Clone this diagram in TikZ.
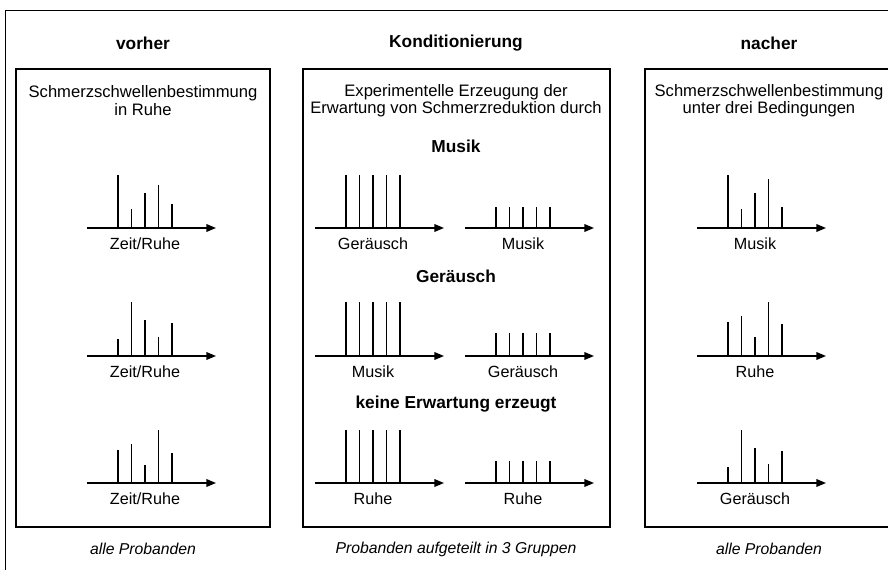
\documentclass[tikz,border=0pt]{standalone}
\usepackage{fontspec}
\setmainfont{Liberation Sans}
\usepackage{tikz}
\usetikzlibrary{arrows.meta}
\tikzset{
  panel/.style={
    draw=black,
    line width=1pt,
    inner sep=0pt
  },
  kopf/.style={
    font=\fontsize{12.3}{13}\selectfont\bfseries,
    inner sep=0pt
  },
  kasten/.style={
    align=center,
    font=\fontsize{11.8}{12.2}\selectfont,
    inner sep=0pt
  },
  fuss/.style={
    font=\fontsize{11.2}{12}\selectfont\itshape,
    inner sep=0pt
  },
  achse/.style={
    -{Triangle[length=2.4mm,width=1.9mm]},
    line width=1pt
  },
  spike/.style={
    line width=1pt
  },
  marke/.style={
    font=\fontsize{11.5}{12}\selectfont,
    inner sep=0pt
  }
}

\begin{document}
\begin{tikzpicture}[x=0.025cm,y=-0.025cm]
\useasboundingbox (0,0) rectangle (888,570);
% Rahmen
\draw[line width=0.7pt] (5,10) rectangle (904,584);

% Spaltenkoepfe
\node[kopf] (hv) at (143,43) {vorher};
\node[kopf] (hk) at (456,43) {Konditionierung};
\node[kopf] (hn) at (769,43) {nacher};

% Kaesten
\node[panel,minimum width=6.35cm,minimum height=11.45cm] (pv) at (143,298) {};
\node[panel,minimum width=7.675cm,minimum height=11.45cm] (pk) at (456.5,298) {};
\node[panel,minimum width=6.2cm,minimum height=11.45cm] (pn) at (769,298) {};

\node[kasten] (tv) at (143,100.5) {Schmerzschwellenbestimmung\\in Ruhe};
\node[kasten] (tk) at (456,100.5) {Experimentelle Erzeugung der\\Erwartung von Schmerzreduktion durch};
\node[kasten] (tn) at (769,100.5) {Schmerzschwellenbestimmung\\unter drei Bedingungen};

% Gruppen
\node[kopf] (g1) at (456,146) {Musik};
\node[kopf] (g2) at (456,276) {Geräusch};
\node[kopf] (g3) at (456,404) {keine Erwartung erzeugt};

% Diagramme
\foreach \n/\x/\y/\hs/\t in {
    v1/87/228/{53,19,35,43,24}/{Zeit/Ruhe},
    v2/87/356/{17,54,36,19,33}/{Zeit/Ruhe},
    v3/87/483/{33,39,18,53,30}/{Zeit/Ruhe},
    k1/315/228/{53,53,53,53,53}/{Geräusch},
    m1/465/228/{21,21,21,21,21}/{Musik},
    k2/315/356/{54,54,54,54,54}/{Musik},
    m2/465/356/{23,23,23,23,23}/{Geräusch},
    k3/315/483/{53,53,53,53,53}/{Ruhe},
    m3/465/483/{22,22,22,22,22}/{Ruhe},
    n1/697/228/{53,19,35,49,21}/{Musik},
    n2/697/356/{34,40,19,54,32}/{Ruhe},
    n3/697/483/{16,53,35,19,32}/{Geräusch}}{
  \begin{scope}[shift={(\x,\y)}]
    \coordinate (\n a) at (0,0);
    \coordinate (\n b) at (129,0);
    \draw[achse] (\n a) -- (\n b);
    \foreach \h [count=\i] in \hs
      \draw[spike] ({17.5+13.5*\i},0) -- ({17.5+13.5*\i},-\h);
    \node[marke] (\n l) at (58,16) {\t};
  \end{scope}
}

% Fusszeilen
\node[fuss] (fv) at (143,549) {alle Probanden};
\node[fuss] (fk) at (456,549) {Probanden aufgeteilt in 3 Gruppen};
\node[fuss] (fn) at (769,549) {alle Probanden};
\end{tikzpicture}
\end{document}
